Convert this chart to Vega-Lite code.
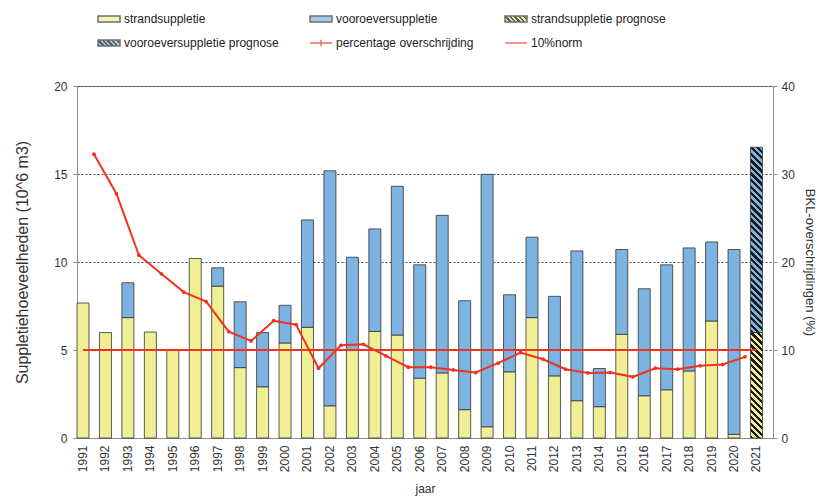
{
  "$schema": "https://vega.github.io/schema/vega-lite/v6.json",
  "width": 696,
  "height": 352,
  "autosize": {"type": "none"},
  "padding": {"left": 77, "top": 86, "right": 45, "bottom": 61},
  "background": "white",
  "config": {
    "font": "Liberation Sans",
    "view": {"stroke": "#8c8c8c", "strokeWidth": 1},
    "axis": {
      "labelFont": "Liberation Sans",
      "titleFont": "Liberation Sans",
      "labelColor": "#333333",
      "titleColor": "#333333",
      "titleFontWeight": "normal",
      "domainColor": "#8c8c8c",
      "tickColor": "#8c8c8c",
      "labelFontSize": 12
    }
  },
  "layer": [
    {
      "data": {
        "values": [
          {"year": 1991, "type": "strandsuppletie", "value": 7.67},
          {"year": 1992, "type": "strandsuppletie", "value": 5.99},
          {"year": 1993, "type": "strandsuppletie", "value": 6.84},
          {"year": 1993, "type": "vooroeversuppletie", "value": 1.98},
          {"year": 1994, "type": "strandsuppletie", "value": 6.02},
          {"year": 1995, "type": "strandsuppletie", "value": 4.99},
          {"year": 1996, "type": "strandsuppletie", "value": 10.2},
          {"year": 1997, "type": "strandsuppletie", "value": 8.63},
          {"year": 1997, "type": "vooroeversuppletie", "value": 1.04},
          {"year": 1998, "type": "strandsuppletie", "value": 4.0},
          {"year": 1998, "type": "vooroeversuppletie", "value": 3.74},
          {"year": 1999, "type": "strandsuppletie", "value": 2.91},
          {"year": 1999, "type": "vooroeversuppletie", "value": 3.08},
          {"year": 2000, "type": "strandsuppletie", "value": 5.4},
          {"year": 2000, "type": "vooroeversuppletie", "value": 2.14},
          {"year": 2001, "type": "strandsuppletie", "value": 6.29},
          {"year": 2001, "type": "vooroeversuppletie", "value": 6.1},
          {"year": 2002, "type": "strandsuppletie", "value": 1.83},
          {"year": 2002, "type": "vooroeversuppletie", "value": 13.35},
          {"year": 2003, "type": "strandsuppletie", "value": 4.97},
          {"year": 2003, "type": "vooroeversuppletie", "value": 5.3},
          {"year": 2004, "type": "strandsuppletie", "value": 6.06},
          {"year": 2004, "type": "vooroeversuppletie", "value": 5.82},
          {"year": 2005, "type": "strandsuppletie", "value": 5.85},
          {"year": 2005, "type": "vooroeversuppletie", "value": 8.45},
          {"year": 2006, "type": "strandsuppletie", "value": 3.4},
          {"year": 2006, "type": "vooroeversuppletie", "value": 6.44},
          {"year": 2007, "type": "strandsuppletie", "value": 3.7},
          {"year": 2007, "type": "vooroeversuppletie", "value": 8.95},
          {"year": 2008, "type": "strandsuppletie", "value": 1.61},
          {"year": 2008, "type": "vooroeversuppletie", "value": 6.19},
          {"year": 2009, "type": "strandsuppletie", "value": 0.64},
          {"year": 2009, "type": "vooroeversuppletie", "value": 14.34},
          {"year": 2010, "type": "strandsuppletie", "value": 3.76},
          {"year": 2010, "type": "vooroeversuppletie", "value": 4.38},
          {"year": 2011, "type": "strandsuppletie", "value": 6.84},
          {"year": 2011, "type": "vooroeversuppletie", "value": 4.57},
          {"year": 2012, "type": "strandsuppletie", "value": 3.53},
          {"year": 2012, "type": "vooroeversuppletie", "value": 4.52},
          {"year": 2013, "type": "strandsuppletie", "value": 2.12},
          {"year": 2013, "type": "vooroeversuppletie", "value": 8.51},
          {"year": 2014, "type": "strandsuppletie", "value": 1.78},
          {"year": 2014, "type": "vooroeversuppletie", "value": 2.17},
          {"year": 2015, "type": "strandsuppletie", "value": 5.89},
          {"year": 2015, "type": "vooroeversuppletie", "value": 4.82},
          {"year": 2016, "type": "strandsuppletie", "value": 2.4},
          {"year": 2016, "type": "vooroeversuppletie", "value": 6.08},
          {"year": 2017, "type": "strandsuppletie", "value": 2.74},
          {"year": 2017, "type": "vooroeversuppletie", "value": 7.1},
          {"year": 2018, "type": "strandsuppletie", "value": 3.81},
          {"year": 2018, "type": "vooroeversuppletie", "value": 6.99},
          {"year": 2019, "type": "strandsuppletie", "value": 6.65},
          {"year": 2019, "type": "vooroeversuppletie", "value": 4.49},
          {"year": 2020, "type": "strandsuppletie", "value": 0.21},
          {"year": 2020, "type": "vooroeversuppletie", "value": 10.5},
          {"year": 2021, "type": "strandsuppletie prognose", "value": 5.99},
          {"year": 2021, "type": "vooroeversuppletie prognose", "value": 10.53}
        ]
      },
      "transform": [
        {"stack": "value", "groupby": ["year"], "sort": [{"field": "type", "order": "ascending"}], "as": ["v0", "v1"]}
      ],
      "layer": [
        {
          "transform": [{"filter": "indexof(datum.type, 'prognose') < 0"}],
          "mark": {"type": "bar", "stroke": "#333333", "strokeWidth": 0.8},
          "encoding": {
            "x": {
              "field": "year",
              "type": "ordinal",
              "scale": {"paddingInner": 0.4655, "paddingOuter": 0.234, "align": 0},
              "axis": {"title": "jaar", "labelAngle": -90, "ticks": false, "labelPadding": 7, "titlePadding": 12, "titleFontSize": 12}
            },
            "y": {
              "field": "v1",
              "type": "quantitative",
              "scale": {"domain": [0, 20], "nice": false},
              "axis": {
                "title": "Suppletiehoeveelheden (10^6 m3)",
                "values": [0, 5, 10, 15, 20],
                "grid": true,
                "gridDash": [2, 2],
                "gridColor": "#444444",
                "tickSize": 4,
                "labelPadding": 6,
                "titleFontSize": 16,
                "titlePadding": 23
              }
            },
            "y2": {"field": "v0"},
            "color": {
              "field": "type",
              "type": "nominal",
              "scale": {
                "domain": ["strandsuppletie", "vooroeversuppletie", "percentage overschrijding", "10%norm"],
                "range": ["#f0ef96", "#7cb3e1", "#f2311f", "#f2311f"]
              },
              "legend": null
            }
          }
        },
        {
          "transform": [{"filter": "datum.type === 'strandsuppletie prognose'"}],
          "mark": {
            "type": "bar",
            "stroke": "#333333",
            "strokeWidth": 0.8,
            "fill": {"gradient": "linear", "x1": 0, "y1": 1, "x2": 0.1249, "y2": -0.0994, "stops": [
              {"offset": 0, "color": "#1a1a1a"}, {"offset": 0.0278, "color": "#1a1a1a"}, {"offset": 0.0278, "color": "#f0ef96"}, {"offset": 0.0556, "color": "#f0ef96"},
              {"offset": 0.0556, "color": "#1a1a1a"}, {"offset": 0.0833, "color": "#1a1a1a"}, {"offset": 0.0833, "color": "#f0ef96"}, {"offset": 0.1111, "color": "#f0ef96"},
              {"offset": 0.1111, "color": "#1a1a1a"}, {"offset": 0.1389, "color": "#1a1a1a"}, {"offset": 0.1389, "color": "#f0ef96"}, {"offset": 0.1667, "color": "#f0ef96"},
              {"offset": 0.1667, "color": "#1a1a1a"}, {"offset": 0.1944, "color": "#1a1a1a"}, {"offset": 0.1944, "color": "#f0ef96"}, {"offset": 0.2222, "color": "#f0ef96"},
              {"offset": 0.2222, "color": "#1a1a1a"}, {"offset": 0.25, "color": "#1a1a1a"}, {"offset": 0.25, "color": "#f0ef96"}, {"offset": 0.2778, "color": "#f0ef96"},
              {"offset": 0.2778, "color": "#1a1a1a"}, {"offset": 0.3056, "color": "#1a1a1a"}, {"offset": 0.3056, "color": "#f0ef96"}, {"offset": 0.3333, "color": "#f0ef96"},
              {"offset": 0.3333, "color": "#1a1a1a"}, {"offset": 0.3611, "color": "#1a1a1a"}, {"offset": 0.3611, "color": "#f0ef96"}, {"offset": 0.3889, "color": "#f0ef96"},
              {"offset": 0.3889, "color": "#1a1a1a"}, {"offset": 0.4167, "color": "#1a1a1a"}, {"offset": 0.4167, "color": "#f0ef96"}, {"offset": 0.4444, "color": "#f0ef96"},
              {"offset": 0.4444, "color": "#1a1a1a"}, {"offset": 0.4722, "color": "#1a1a1a"}, {"offset": 0.4722, "color": "#f0ef96"}, {"offset": 0.5, "color": "#f0ef96"},
              {"offset": 0.5, "color": "#1a1a1a"}, {"offset": 0.5278, "color": "#1a1a1a"}, {"offset": 0.5278, "color": "#f0ef96"}, {"offset": 0.5556, "color": "#f0ef96"},
              {"offset": 0.5556, "color": "#1a1a1a"}, {"offset": 0.5833, "color": "#1a1a1a"}, {"offset": 0.5833, "color": "#f0ef96"}, {"offset": 0.6111, "color": "#f0ef96"},
              {"offset": 0.6111, "color": "#1a1a1a"}, {"offset": 0.6389, "color": "#1a1a1a"}, {"offset": 0.6389, "color": "#f0ef96"}, {"offset": 0.6667, "color": "#f0ef96"},
              {"offset": 0.6667, "color": "#1a1a1a"}, {"offset": 0.6944, "color": "#1a1a1a"}, {"offset": 0.6944, "color": "#f0ef96"}, {"offset": 0.7222, "color": "#f0ef96"},
              {"offset": 0.7222, "color": "#1a1a1a"}, {"offset": 0.75, "color": "#1a1a1a"}, {"offset": 0.75, "color": "#f0ef96"}, {"offset": 0.7778, "color": "#f0ef96"},
              {"offset": 0.7778, "color": "#1a1a1a"}, {"offset": 0.8056, "color": "#1a1a1a"}, {"offset": 0.8056, "color": "#f0ef96"}, {"offset": 0.8333, "color": "#f0ef96"},
              {"offset": 0.8333, "color": "#1a1a1a"}, {"offset": 0.8611, "color": "#1a1a1a"}, {"offset": 0.8611, "color": "#f0ef96"}, {"offset": 0.8889, "color": "#f0ef96"},
              {"offset": 0.8889, "color": "#1a1a1a"}, {"offset": 0.9167, "color": "#1a1a1a"}, {"offset": 0.9167, "color": "#f0ef96"}, {"offset": 0.9444, "color": "#f0ef96"},
              {"offset": 0.9444, "color": "#1a1a1a"}, {"offset": 0.9722, "color": "#1a1a1a"}, {"offset": 0.9722, "color": "#f0ef96"}, {"offset": 1, "color": "#f0ef96"}
            ]}
          },
          "encoding": {
            "x": {"field": "year", "type": "ordinal"},
            "y": {"field": "v1", "type": "quantitative"},
            "y2": {"field": "v0"}
          }
        },
        {
          "transform": [{"filter": "datum.type === 'vooroeversuppletie prognose'"}],
          "mark": {
            "type": "bar",
            "stroke": "#333333",
            "strokeWidth": 0.8,
            "fill": {"gradient": "linear", "x1": 0, "y1": 1, "x2": 0.0687, "y2": -0.0603, "stops": [
              {"offset": 0, "color": "#1a1a1a"}, {"offset": 0.0167, "color": "#1a1a1a"}, {"offset": 0.0167, "color": "#7cb3e1"}, {"offset": 0.0333, "color": "#7cb3e1"},
              {"offset": 0.0333, "color": "#1a1a1a"}, {"offset": 0.05, "color": "#1a1a1a"}, {"offset": 0.05, "color": "#7cb3e1"}, {"offset": 0.0667, "color": "#7cb3e1"},
              {"offset": 0.0667, "color": "#1a1a1a"}, {"offset": 0.0833, "color": "#1a1a1a"}, {"offset": 0.0833, "color": "#7cb3e1"}, {"offset": 0.1, "color": "#7cb3e1"},
              {"offset": 0.1, "color": "#1a1a1a"}, {"offset": 0.1167, "color": "#1a1a1a"}, {"offset": 0.1167, "color": "#7cb3e1"}, {"offset": 0.1333, "color": "#7cb3e1"},
              {"offset": 0.1333, "color": "#1a1a1a"}, {"offset": 0.15, "color": "#1a1a1a"}, {"offset": 0.15, "color": "#7cb3e1"}, {"offset": 0.1667, "color": "#7cb3e1"},
              {"offset": 0.1667, "color": "#1a1a1a"}, {"offset": 0.1833, "color": "#1a1a1a"}, {"offset": 0.1833, "color": "#7cb3e1"}, {"offset": 0.2, "color": "#7cb3e1"},
              {"offset": 0.2, "color": "#1a1a1a"}, {"offset": 0.2167, "color": "#1a1a1a"}, {"offset": 0.2167, "color": "#7cb3e1"}, {"offset": 0.2333, "color": "#7cb3e1"},
              {"offset": 0.2333, "color": "#1a1a1a"}, {"offset": 0.25, "color": "#1a1a1a"}, {"offset": 0.25, "color": "#7cb3e1"}, {"offset": 0.2667, "color": "#7cb3e1"},
              {"offset": 0.2667, "color": "#1a1a1a"}, {"offset": 0.2833, "color": "#1a1a1a"}, {"offset": 0.2833, "color": "#7cb3e1"}, {"offset": 0.3, "color": "#7cb3e1"},
              {"offset": 0.3, "color": "#1a1a1a"}, {"offset": 0.3167, "color": "#1a1a1a"}, {"offset": 0.3167, "color": "#7cb3e1"}, {"offset": 0.3333, "color": "#7cb3e1"},
              {"offset": 0.3333, "color": "#1a1a1a"}, {"offset": 0.35, "color": "#1a1a1a"}, {"offset": 0.35, "color": "#7cb3e1"}, {"offset": 0.3667, "color": "#7cb3e1"},
              {"offset": 0.3667, "color": "#1a1a1a"}, {"offset": 0.3833, "color": "#1a1a1a"}, {"offset": 0.3833, "color": "#7cb3e1"}, {"offset": 0.4, "color": "#7cb3e1"},
              {"offset": 0.4, "color": "#1a1a1a"}, {"offset": 0.4167, "color": "#1a1a1a"}, {"offset": 0.4167, "color": "#7cb3e1"}, {"offset": 0.4333, "color": "#7cb3e1"},
              {"offset": 0.4333, "color": "#1a1a1a"}, {"offset": 0.45, "color": "#1a1a1a"}, {"offset": 0.45, "color": "#7cb3e1"}, {"offset": 0.4667, "color": "#7cb3e1"},
              {"offset": 0.4667, "color": "#1a1a1a"}, {"offset": 0.4833, "color": "#1a1a1a"}, {"offset": 0.4833, "color": "#7cb3e1"}, {"offset": 0.5, "color": "#7cb3e1"},
              {"offset": 0.5, "color": "#1a1a1a"}, {"offset": 0.5167, "color": "#1a1a1a"}, {"offset": 0.5167, "color": "#7cb3e1"}, {"offset": 0.5333, "color": "#7cb3e1"},
              {"offset": 0.5333, "color": "#1a1a1a"}, {"offset": 0.55, "color": "#1a1a1a"}, {"offset": 0.55, "color": "#7cb3e1"}, {"offset": 0.5667, "color": "#7cb3e1"},
              {"offset": 0.5667, "color": "#1a1a1a"}, {"offset": 0.5833, "color": "#1a1a1a"}, {"offset": 0.5833, "color": "#7cb3e1"}, {"offset": 0.6, "color": "#7cb3e1"},
              {"offset": 0.6, "color": "#1a1a1a"}, {"offset": 0.6167, "color": "#1a1a1a"}, {"offset": 0.6167, "color": "#7cb3e1"}, {"offset": 0.6333, "color": "#7cb3e1"},
              {"offset": 0.6333, "color": "#1a1a1a"}, {"offset": 0.65, "color": "#1a1a1a"}, {"offset": 0.65, "color": "#7cb3e1"}, {"offset": 0.6667, "color": "#7cb3e1"},
              {"offset": 0.6667, "color": "#1a1a1a"}, {"offset": 0.6833, "color": "#1a1a1a"}, {"offset": 0.6833, "color": "#7cb3e1"}, {"offset": 0.7, "color": "#7cb3e1"},
              {"offset": 0.7, "color": "#1a1a1a"}, {"offset": 0.7167, "color": "#1a1a1a"}, {"offset": 0.7167, "color": "#7cb3e1"}, {"offset": 0.7333, "color": "#7cb3e1"},
              {"offset": 0.7333, "color": "#1a1a1a"}, {"offset": 0.75, "color": "#1a1a1a"}, {"offset": 0.75, "color": "#7cb3e1"}, {"offset": 0.7667, "color": "#7cb3e1"},
              {"offset": 0.7667, "color": "#1a1a1a"}, {"offset": 0.7833, "color": "#1a1a1a"}, {"offset": 0.7833, "color": "#7cb3e1"}, {"offset": 0.8, "color": "#7cb3e1"},
              {"offset": 0.8, "color": "#1a1a1a"}, {"offset": 0.8167, "color": "#1a1a1a"}, {"offset": 0.8167, "color": "#7cb3e1"}, {"offset": 0.8333, "color": "#7cb3e1"},
              {"offset": 0.8333, "color": "#1a1a1a"}, {"offset": 0.85, "color": "#1a1a1a"}, {"offset": 0.85, "color": "#7cb3e1"}, {"offset": 0.8667, "color": "#7cb3e1"},
              {"offset": 0.8667, "color": "#1a1a1a"}, {"offset": 0.8833, "color": "#1a1a1a"}, {"offset": 0.8833, "color": "#7cb3e1"}, {"offset": 0.9, "color": "#7cb3e1"},
              {"offset": 0.9, "color": "#1a1a1a"}, {"offset": 0.9167, "color": "#1a1a1a"}, {"offset": 0.9167, "color": "#7cb3e1"}, {"offset": 0.9333, "color": "#7cb3e1"},
              {"offset": 0.9333, "color": "#1a1a1a"}, {"offset": 0.95, "color": "#1a1a1a"}, {"offset": 0.95, "color": "#7cb3e1"}, {"offset": 0.9667, "color": "#7cb3e1"},
              {"offset": 0.9667, "color": "#1a1a1a"}, {"offset": 0.9833, "color": "#1a1a1a"}, {"offset": 0.9833, "color": "#7cb3e1"}, {"offset": 1, "color": "#7cb3e1"}
            ]}
          },
          "encoding": {
            "x": {"field": "year", "type": "ordinal"},
            "y": {"field": "v1", "type": "quantitative"},
            "y2": {"field": "v0"}
          }
        },
        {
          "mark": {
            "type": "point",
            "filled": true,
            "size": 0,
            "fill": {"expr": "(datum.label || datum.type) === 'strandsuppletie' ? '#f0ef96' : (datum.label || datum.type) === 'vooroeversuppletie' ? '#7cb3e1' : (datum.label || datum.type) === 'strandsuppletie prognose' ? {gradient: 'linear', x1: 0, y1: 1, x2: 1.1837, y2: 0.6804, stops: [{offset: 0, color: '#1a1a1a'}, {offset: 0.0833, color: '#1a1a1a'}, {offset: 0.0833, color: '#f0ef96'}, {offset: 0.1667, color: '#f0ef96'}, {offset: 0.1667, color: '#1a1a1a'}, {offset: 0.25, color: '#1a1a1a'}, {offset: 0.25, color: '#f0ef96'}, {offset: 0.3333, color: '#f0ef96'}, {offset: 0.3333, color: '#1a1a1a'}, {offset: 0.4167, color: '#1a1a1a'}, {offset: 0.4167, color: '#f0ef96'}, {offset: 0.5, color: '#f0ef96'}, {offset: 0.5, color: '#1a1a1a'}, {offset: 0.5833, color: '#1a1a1a'}, {offset: 0.5833, color: '#f0ef96'}, {offset: 0.6667, color: '#f0ef96'}, {offset: 0.6667, color: '#1a1a1a'}, {offset: 0.75, color: '#1a1a1a'}, {offset: 0.75, color: '#f0ef96'}, {offset: 0.8333, color: '#f0ef96'}, {offset: 0.8333, color: '#1a1a1a'}, {offset: 0.9167, color: '#1a1a1a'}, {offset: 0.9167, color: '#f0ef96'}, {offset: 1, color: '#f0ef96'}]} : (datum.label || datum.type) === 'vooroeversuppletie prognose' ? {gradient: 'linear', x1: 0, y1: 1, x2: 1.1837, y2: 0.6804, stops: [{offset: 0, color: '#1a1a1a'}, {offset: 0.0833, color: '#1a1a1a'}, {offset: 0.0833, color: '#7cb3e1'}, {offset: 0.1667, color: '#7cb3e1'}, {offset: 0.1667, color: '#1a1a1a'}, {offset: 0.25, color: '#1a1a1a'}, {offset: 0.25, color: '#7cb3e1'}, {offset: 0.3333, color: '#7cb3e1'}, {offset: 0.3333, color: '#1a1a1a'}, {offset: 0.4167, color: '#1a1a1a'}, {offset: 0.4167, color: '#7cb3e1'}, {offset: 0.5, color: '#7cb3e1'}, {offset: 0.5, color: '#1a1a1a'}, {offset: 0.5833, color: '#1a1a1a'}, {offset: 0.5833, color: '#7cb3e1'}, {offset: 0.6667, color: '#7cb3e1'}, {offset: 0.6667, color: '#1a1a1a'}, {offset: 0.75, color: '#1a1a1a'}, {offset: 0.75, color: '#7cb3e1'}, {offset: 0.8333, color: '#7cb3e1'}, {offset: 0.8333, color: '#1a1a1a'}, {offset: 0.9167, color: '#1a1a1a'}, {offset: 0.9167, color: '#7cb3e1'}, {offset: 1, color: '#7cb3e1'}]} : 'transparent'"},
            "stroke": {"expr": "indexof(datum.label || datum.type, 'supp') >= 0 ? '#333333' : '#f2311f'"},
            "strokeWidth": {"expr": "indexof(datum.label || datum.type, 'supp') >= 0 ? 0.8 : 2"}
          },
          "encoding": {
            "x": {"field": "year", "type": "ordinal"},
            "y": {"field": "v1", "type": "quantitative"},
            "shape": {
              "field": "type",
              "type": "nominal",
              "scale": {
                "domain": ["strandsuppletie", "vooroeversuppletie", "strandsuppletie prognose", "vooroeversuppletie prognose", "percentage overschrijding", "10%norm"],
                "range": ["M-1,-0.27H1V0.27H-1Z", "M-1,-0.27H1V0.27H-1Z", "M-1,-0.27H1V0.27H-1Z", "M-1,-0.27H1V0.27H-1Z", "M-1,0H1M0,-0.3V0.3", "M-1,0H1"]
              },
              "legend": {
                "orient": "none",
                "legendX": 20,
                "legendY": -79,
                "direction": "horizontal",
                "columns": 3,
                "title": null,
                "symbolSize": 484,
                "labelFontSize": 12,
                "labelFont": "Liberation Sans",
                "labelColor": "#222222",
                "labelOffset": 3,
                "columnPadding": 28,
                "rowPadding": 6,
                "padding": 0
              }
            }
          }
        }
      ]
    },
    {
      "layer": [
        {
          "data": {
            "values": [
              {"year": 1991, "pct": 32.25}, {"year": 1992, "pct": 27.76}, {"year": 1993, "pct": 20.77}, {"year": 1994, "pct": 18.66},
              {"year": 1995, "pct": 16.58}, {"year": 1996, "pct": 15.49}, {"year": 1997, "pct": 12.09}, {"year": 1998, "pct": 11.03},
              {"year": 1999, "pct": 13.33}, {"year": 2000, "pct": 12.88}, {"year": 2001, "pct": 7.93}, {"year": 2002, "pct": 10.54},
              {"year": 2003, "pct": 10.65}, {"year": 2004, "pct": 9.33}, {"year": 2005, "pct": 8.05}, {"year": 2006, "pct": 8.05},
              {"year": 2007, "pct": 7.74}, {"year": 2008, "pct": 7.44}, {"year": 2009, "pct": 8.5}, {"year": 2010, "pct": 9.71},
              {"year": 2011, "pct": 8.95}, {"year": 2012, "pct": 7.82}, {"year": 2013, "pct": 7.4}, {"year": 2014, "pct": 7.44},
              {"year": 2015, "pct": 6.95}, {"year": 2016, "pct": 7.93}, {"year": 2017, "pct": 7.82}, {"year": 2018, "pct": 8.2},
              {"year": 2019, "pct": 8.35}, {"year": 2020, "pct": 9.22}
            ]
          },
          "layer": [
            {
              "mark": {"type": "line", "strokeWidth": 2, "xOffset": 11},
              "encoding": {
                "x": {"field": "year", "type": "ordinal"},
                "y": {
                  "field": "pct",
                  "type": "quantitative",
                  "scale": {"domain": [0, 40], "nice": false},
                  "axis": {
                    "orient": "right",
                    "title": "BKL-overschrijdingen (%)",
                    "values": [0, 10, 20, 30, 40],
                    "grid": false,
                    "tickSize": 4,
                    "labelPadding": 4,
                    "titleFontSize": 13,
                    "titlePadding": 8
                  }
                },
                "color": {"datum": "percentage overschrijding", "type": "nominal", "legend": null}
              }
            },
            {
              "mark": {"type": "point", "filled": true, "size": 14, "opacity": 1, "xOffset": 11},
              "encoding": {
                "x": {"field": "year", "type": "ordinal"},
                "y": {"field": "pct", "type": "quantitative"},
                "color": {"datum": "percentage overschrijding", "type": "nominal", "legend": null}
              }
            }
          ]
        },
        {
          "data": {"values": [{"year": 1991, "norm": 10}, {"year": 2021, "norm": 10}]},
          "mark": {"type": "line", "strokeWidth": 2},
          "encoding": {
            "x": {"field": "year", "type": "ordinal"},
            "y": {"field": "norm", "type": "quantitative"},
            "color": {"datum": "10%norm", "type": "nominal", "legend": null}
          }
        }
      ]
    }
  ],
  "resolve": {"scale": {"y": "independent"}}
}
